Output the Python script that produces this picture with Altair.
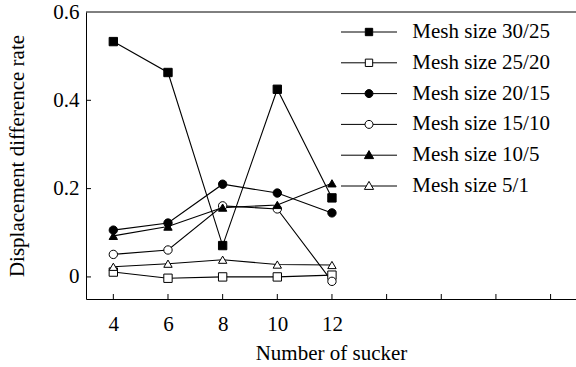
import altair as alt
import pandas as pd

# ---- data ----
suckers = [4, 6, 8, 10, 12]
series = ["Mesh size 30/25", "Mesh size 25/20", "Mesh size 20/15",
          "Mesh size 15/10", "Mesh size 10/5", "Mesh size 5/1"]
s_30_25 = [0.533, 0.463, 0.071, 0.425, 0.179]
s_25_20 = [0.011, -0.003, 0.000, 0.000, 0.004]
s_20_15 = [0.106, 0.122, 0.210, 0.190, 0.145]
s_15_10 = [0.051, 0.061, 0.161, 0.154, -0.010]
s_10_5 = [0.093, 0.114, 0.157, 0.163, 0.212]
s_5_1 = [0.023, 0.030, 0.039, 0.028, 0.027]
values = [s_30_25, s_25_20, s_20_15, s_15_10, s_10_5, s_5_1]

x_ticks = [4, 6, 8, 10, 12, 14, 16, 18, 20]
y_ticks = [0, 0.2, 0.4, 0.6]
X_DOMAIN = [3, 20.93]
Y_DOMAIN = [-0.05, 0.6]

rows = []
for name, vals in zip(series, values):
    for xv, yv in zip(suckers, vals):
        rows.append({"n": xv, "rate": yv, "series": name})
df = pd.DataFrame(rows)

W, H = 490, 287
FONT = "Liberation Serif"

fills = ["black", "white", "black", "white", "black", "white"]
plot_shapes = ["square", "square", "circle", "circle", "triangle-up", "triangle-up"]
sq = "M-7,0H-0.92M0.92,0H7M-0.92,-0.92H0.92V0.92H-0.92Z"
ci = "M-7,0H-1M1,0H7M-1,0A1,1,0,1,0,1,0A1,1,0,1,0,-1,0Z"
tr = "M-7,0H-0.62M0.62,0H7M0,-1.15L1.15,0.85L-1.15,0.85Z"
legend_shapes = [sq, sq, ci, ci, tr, tr]

xs = alt.Scale(domain=X_DOMAIN, nice=False, zero=False)
ys = alt.Scale(domain=Y_DOMAIN, nice=False, zero=False)

base = alt.Chart(df)

lines = base.mark_line(color="black", strokeWidth=1.1).encode(
    x=alt.X("n:Q", scale=xs,
            axis=alt.Axis(title="Number of sucker", values=x_ticks, ticks=False, grid=False,
                          labelExpr="datum.value <= 12 ? datum.label : ''",
                          labelBaseline="alphabetic", labelPadding=31,
                          titleBaseline="alphabetic", titleY=60, titleX=W / 2,
                          domainColor="black", domainWidth=1)),
    y=alt.Y("rate:Q", scale=ys,
            axis=alt.Axis(title="Displacement difference rate", values=y_ticks, ticks=False,
                          grid=False,
                          labelExpr="datum.value == 0 ? '0' : format(datum.value, '.1f')",
                          labelPadding=7, titleAngle=-90, titleX=-63, titleY=H / 2,
                          titleBaseline="alphabetic", titleAlign="center",
                          domainColor="black", domainWidth=1)),
    detail="series:N",
)

points = base.mark_point(size=70, stroke="black", strokeWidth=1, opacity=1).encode(
    x=alt.X("n:Q", scale=xs),
    y=alt.Y("rate:Q", scale=ys),
    shape=alt.Shape("series:N", scale=alt.Scale(domain=series, range=plot_shapes), legend=None),
    fill=alt.Fill("series:N", scale=alt.Scale(domain=series, range=fills), legend=None),
)

leg = alt.Legend(
    title=None, orient="none", legendX=272.5, legendY=9.5, padding=0,
    symbolSize=64, symbolStrokeWidth=1, symbolOffset=0,
    labelFont=FONT, labelFontSize=21, labelColor="black", labelOffset=32.8,
    labelLimit=300, rowPadding=8.8,
)

legend_layer = base.mark_point(stroke="black", strokeWidth=1, opacity=1).encode(
    x=alt.X("n:Q", scale=xs),
    y=alt.Y("rate:Q", scale=ys),
    size=alt.value(0),
    shape=alt.Shape("series:N", scale=alt.Scale(domain=series, range=legend_shapes),
                    legend=leg),
    fill=alt.Fill("series:N", scale=alt.Scale(domain=series, range=fills), legend=leg),
)

xtick_df = pd.DataFrame({"t": x_ticks})
xtick_rules = alt.Chart(xtick_df).mark_rule(color="black", strokeWidth=1).encode(
    x=alt.X("t:Q", scale=xs),
    y=alt.value(H),
    y2=alt.value(H - 5),
)
ytick_df = pd.DataFrame({"t": y_ticks[:-1]})
ytick_rules = alt.Chart(ytick_df).mark_rule(color="black", strokeWidth=1).encode(
    y=alt.Y("t:Q", scale=ys),
    x=alt.value(0),
    x2=alt.value(5),
)
top_rule = alt.Chart(pd.DataFrame({"top": [Y_DOMAIN[1]]})).mark_rule(
    color="black", strokeWidth=1).encode(
    y=alt.Y("top:Q", scale=ys),
    x=alt.value(0),
    x2=alt.value(W),
)

chart = alt.layer(lines, xtick_rules, ytick_rules, top_rule, legend_layer, points).resolve_scale(
    shape="independent", fill="independent"
).properties(
    width=W, height=H,
    autosize=alt.AutoSizeParams(type="none"),
    padding={"left": 86, "top": 12, "right": 0, "bottom": 68},
    background="white",
).configure_view(stroke=None).configure_axis(
    labelFont=FONT, labelFontSize=21, labelColor="black",
    titleFont=FONT, titleFontSize=21, titleColor="black", titleFontWeight="normal",
).configure_legend(
    labelFont=FONT, labelFontSize=21, labelColor="black",
)

chart.save("out.html", embed_options={"renderer": "svg", "actions": False})
